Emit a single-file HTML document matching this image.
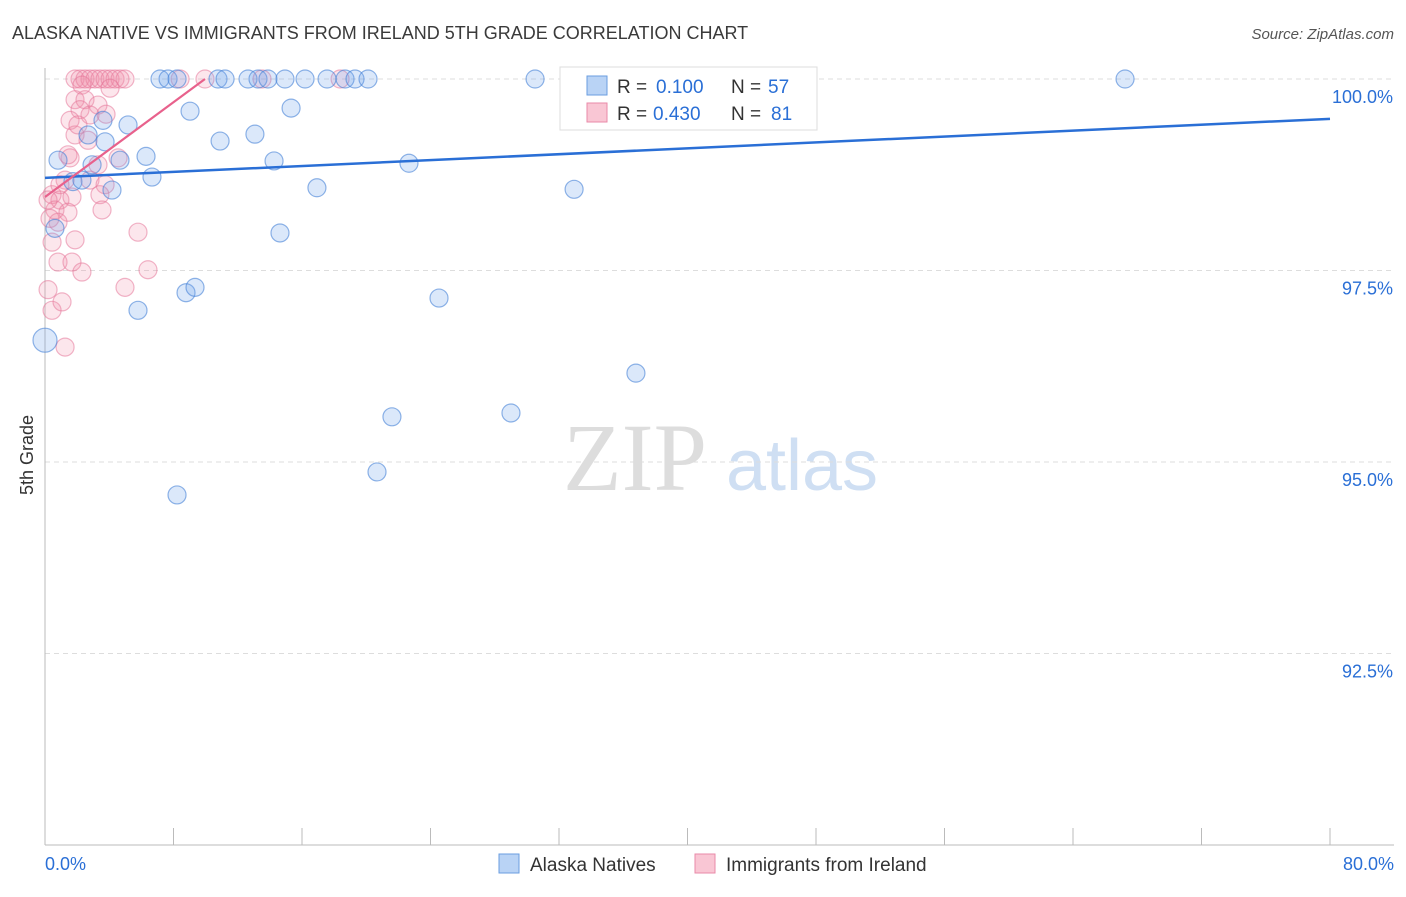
<!DOCTYPE html>
<html><head><meta charset="utf-8"><style>
body{margin:0;background:#fff;font-family:"Liberation Sans",sans-serif}
</style></head><body>
<svg id="chart" width="1406" height="892" font-family="Liberation Sans, sans-serif">
<text x="12" y="39" font-size="18" fill="#3a3a3a">ALASKA NATIVE VS IMMIGRANTS FROM IRELAND 5TH GRADE CORRELATION CHART</text>
<text x="1394" y="39" font-size="15" fill="#555" font-style="italic" text-anchor="end">Source: ZipAtlas.com</text>
<text x="33" y="455" font-size="18" fill="#333" transform="rotate(-90 33 455)" text-anchor="middle">5th Grade</text>
<g>
<text x="635" y="490" font-size="96" fill="#ddd" font-family="Liberation Serif, serif" text-anchor="middle">ZIP</text>
<text x="802" y="490" font-size="72" fill="#cfdff3" text-anchor="middle">atlas</text>
</g>
<g id="grid"></g><g id="axes"></g><g id="pts"></g><g id="lines"></g>
<g>
<rect x="560" y="67" width="257" height="63" fill="#fff" stroke="#ddd"/>
<rect x="587" y="76" width="20" height="19" fill="#b9d3f5" stroke="#6a9ee0"/>
<text x="617" y="93" font-size="19" fill="#333">R =</text><text x="656" y="93" font-size="19" fill="#2a6fd6">0.100</text>
<text x="731" y="93" font-size="19" fill="#333">N =</text><text x="768" y="93" font-size="19" fill="#2a6fd6">57</text>
<rect x="587" y="103" width="20" height="19" fill="#f9c6d4" stroke="#e98aa8"/>
<text x="617" y="120" font-size="19" fill="#333">R =</text><text x="653" y="120" font-size="19" fill="#2a6fd6">0.430</text>
<text x="731" y="120" font-size="19" fill="#333">N =</text><text x="771" y="120" font-size="19" fill="#2a6fd6">81</text>
</g>
<g>
<rect x="499" y="854" width="20" height="19" fill="#b9d3f5" stroke="#6a9ee0"/>
<text x="530" y="871" font-size="19" fill="#333">Alaska Natives</text>
<rect x="695" y="854" width="20" height="19" fill="#f9c6d4" stroke="#e98aa8"/>
<text x="726" y="871" font-size="19" fill="#333">Immigrants from Ireland</text>
</g>
</svg>
<script>
const yTicks=[100,97.5,95,92.5];
const yTickLabels=["100.0%","97.5%","95.0%","92.5%"];
const xTickLabels=["0.0%","80.0%"];
const blueX=[0,0.81,0.62,1.74,2.68,2.93,2.30,3.61,3.74,4.17,4.67,5.17,5.79,6.29,6.66,7.16,7.66,8.22,8.22,8.78,9.03,9.34,10.77,10.90,11.21,12.64,13.07,13.26,13.88,14.26,14.63,14.94,15.32,16.19,16.93,17.56,18.68,19.30,20.11,20.67,21.60,22.66,24.53,29.01,30.51,32.94,36.79,41.53,44.89,67.24];
const blueY=[96.59,98.94,98.05,98.66,99.27,98.88,98.68,99.46,99.18,98.55,98.94,99.40,96.98,98.99,98.72,100,100,100,94.57,97.21,99.58,97.28,100,99.19,100,100,99.28,100,100,98.93,97.99,100,99.62,100,98.58,100,100,100,100,94.87,95.59,98.90,97.14,95.64,100,98.56,96.16,100,100,100];
const pinkX=[1.87,2.18,2.49,2.80,3.11,3.42,3.74,4.05,4.36,4.67,4.98,2.30,4.05,1.87,2.49,3.30,2.18,2.80,1.56,3.80,1.87,2.68,1.56,3.30,4.55,1.25,2.80,3.74,0.44,0.93,1.68,3.42,0.62,1.43,3.55,0.81,0.44,1.87,5.79,0.81,1.68,0.19,2.30,6.41,0.44,1.06,4.98,1.25,9.96,8.41,18.37,13.51,0.93,0.19,0.31,1.43,2.05];
const pinkY=[100,100,100,100,100,100,100,100,100,100,100,99.92,99.88,99.73,99.73,99.66,99.60,99.53,99.46,99.54,99.27,99.20,98.97,98.88,98.97,98.68,98.68,98.62,98.49,98.42,98.46,98.49,98.29,98.26,98.29,98.13,97.87,97.90,98.00,97.61,97.61,97.25,97.48,97.51,96.98,97.09,97.28,96.50,100,100,100,100,98.62,98.42,98.18,99.01,99.40];
const blueLine=[98.71,99.48];
const pinkLine=[98.46,100];
const pinkLineEnd=9.96;
const NS="http://www.w3.org/2000/svg";
const X=v=>45+v/80*1285, Y=v=>79+(100-v)/2.5*191.5;
function mk(t,a,p){const e=document.createElementNS(NS,t);for(const k in a)e.setAttribute(k,a[k]);p.appendChild(e);return e;}
const g=document.getElementById('grid'),ax=document.getElementById('axes'),pts=document.getElementById('pts'),ln=document.getElementById('lines');
yTicks.forEach((t,i)=>{
 const l=mk('line',{x1:45,x2:1394,y1:Y(t),y2:Y(t),stroke:'#ddd','stroke-dasharray':'5,4'},g);
 
 
 const tx=mk('text',{x:1393,y:Y(t)+24,'font-size':18,fill:'#2a6fd6','text-anchor':'end'},ax);
 tx.textContent=yTickLabels[i];
 
 
});
const a1=mk('line',{x1:45,x2:45,y1:68,y2:845,stroke:'#bbb'},ax);


const a2=mk('line',{x1:45,x2:1394,y1:845,y2:845,stroke:'#bbb'},ax);


for(let i=0;i<=10;i++){const t=mk('line',{x1:X(i*8),x2:X(i*8),y1:828,y2:845,stroke:'#bbb'},ax);
 
 }
[[0,'start',45],[1,'end',1394]].forEach(([i,an,x])=>{const t=mk('text',{x:x,y:870,'font-size':18,fill:'#2a6fd6','text-anchor':an},ax);t.textContent=xTickLabels[i];
 
 });
pinkX.forEach((v,i)=>{const c=mk('circle',{cx:X(v),cy:Y(pinkY[i]),r:9,fill:'rgba(242,140,170,0.22)',stroke:'rgba(230,120,155,0.55)','stroke-width':1.2},pts);
 
 });
blueX.forEach((v,i)=>{const c=mk('circle',{cx:X(v),cy:Y(blueY[i]),r:i==0?12:9,fill:'rgba(110,165,235,0.25)',stroke:'rgba(70,130,215,0.6)','stroke-width':1.2},pts);
 
 });
const bl=mk('line',{x1:X(0),y1:Y(blueLine[0]),x2:X(80),y2:Y(blueLine[1]),stroke:'#2a6fd6','stroke-width':2.5},ln);


const pl=mk('line',{x1:X(0),y1:Y(pinkLine[0]),x2:X(pinkLineEnd),y2:Y(pinkLine[1]),stroke:'#e8618c','stroke-width':2.2},ln);


</script>
</body></html>
